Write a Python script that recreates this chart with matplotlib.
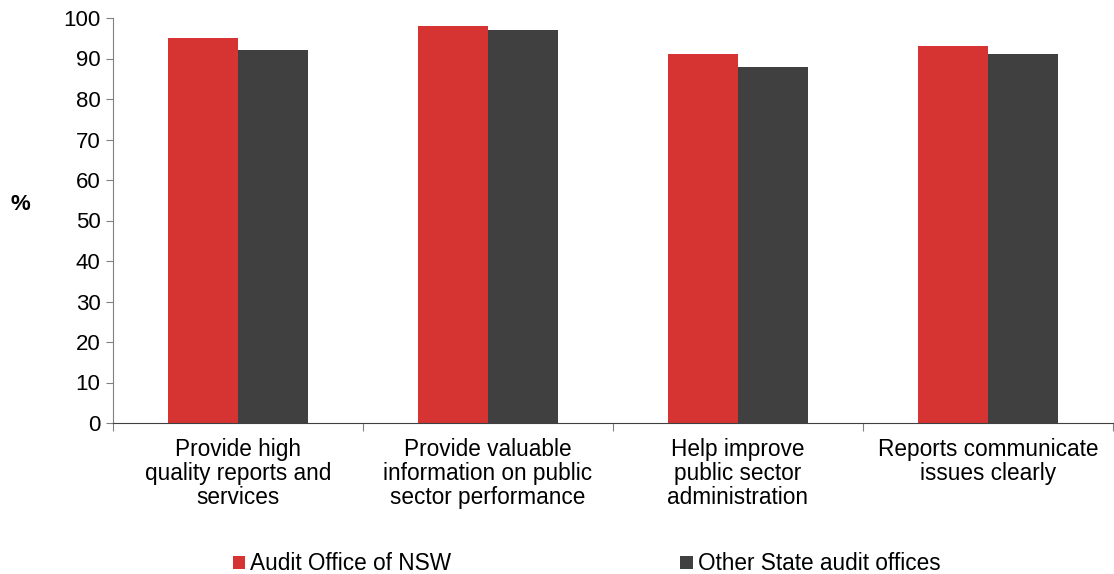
import matplotlib
matplotlib.use("Agg")
import matplotlib.pyplot as plt
import numpy as np

plt.rcParams['font.family'] = ['Liberation Sans', 'DejaVu Sans']

categories = ["Provide high\nquality reports and\nservices",
              "Provide valuable\ninformation on public\nsector performance",
              "Help improve\npublic sector\nadministration",
              "Reports communicate\nissues clearly"]
series_names = ["Audit Office of NSW", "Other State audit offices"]
nsw = [95, 98, 91, 93]
others = [92, 97, 88, 91]
colors = ["#D63333", "#404040"]

fig = plt.figure(figsize=(11.14, 5.74), dpi=100)
ax = fig.add_axes([113/1114, 1 - 423/574, 1000/1114, 405/574])

x = np.arange(len(categories)) + 0.5
w = 0.28
b1 = ax.bar(x - w/2, nsw, w, color=colors[0], label=series_names[0])
b2 = ax.bar(x + w/2, others, w, color=colors[1], label=series_names[1])

ax.set_xlim(0, len(categories))
ax.set_ylim(0, 100)
ax.set_yticks(range(0, 101, 10))
ax.tick_params(axis='y', labelsize=16, length=5, color='#808080', direction='out', pad=4)
ax.set_xticks(range(0, len(categories) + 1))
ax.set_xticklabels([])
ax.set_xticks(x, minor=True)
ax.set_xticklabels(categories, minor=True, fontsize=16.3, linespacing=1.05)
ax.tick_params(axis='x', which='major', length=6, color='#808080')
ax.tick_params(axis='x', which='minor', length=0, pad=11)
for s in ['top', 'right']:
    ax.spines[s].set_visible(False)
ax.spines['left'].set_color('#808080')
ax.spines['bottom'].set_color('#404040')

fig.text(20/1114, 1 - 204/574, "%", fontsize=16, fontweight='bold', ha='center', va='center')

fig.legend(handles=[b1, b2], labels=series_names, loc='center left',
           bbox_to_anchor=(233/1114, 1 - 564/574), ncol=2, frameon=False,
           fontsize=16.3, handlelength=0.55, handleheight=0.55, handletextpad=0.22,
           columnspacing=10.1, borderaxespad=0, borderpad=0)

fig.savefig("out.png", dpi=100)
